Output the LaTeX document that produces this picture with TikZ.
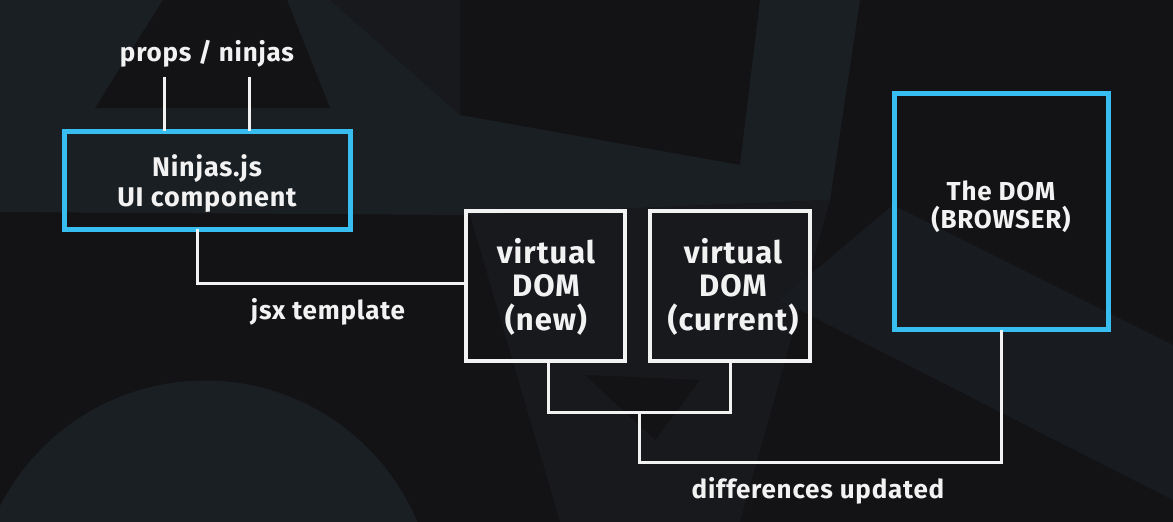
\documentclass[tikz,border=0pt]{standalone}
\usepackage{fontspec}
\setmainfont{Fira Sans}[LetterSpace=3]
\definecolor{bgdark}{HTML}{131215}
\definecolor{bglight}{HTML}{1A1F24}
\definecolor{bgmid}{HTML}{17191D}
\definecolor{reactblue}{HTML}{38BDF0}
\definecolor{linewhite}{HTML}{F2F2F2}
\tikzset{
  bluebox/.style={draw=reactblue, line width=5pt, outer sep=0pt, inner sep=0pt},
  whitebox/.style={draw=linewhite, line width=3.5pt, outer sep=0pt, inner sep=0pt},
  wire/.style={draw=linewhite, line width=3pt},
  lbl/.style={text=linewhite, font=\bfseries\fontsize{26}{30}\selectfont, anchor=base, inner sep=0pt},
  boxtxt/.style={text=linewhite, align=center, anchor=base, inner sep=0pt},
}
\begin{document}
\begin{tikzpicture}[x=1pt,y=-1pt]
\useasboundingbox (0,0) rectangle (1173,522);
% background
\fill[bgdark] (0,0) rectangle (1173,522);
\fill[bglight] (0,0) -- (460,0) -- (460,115) -- (740,165) -- (760,0) -- (860,0) -- (830,200) -- (470,215) -- (0,212) -- cycle;
\fill[bgdark] (163,0) -- (287,0) -- (330,108) -- (95,108) -- cycle;
\fill[bgmid] (330,0) -- (460,0) -- (460,115) -- cycle;
\fill[bgmid] (470,215) -- (830,200) -- (740,522) -- (560,522) -- cycle;
\fill[bgdark] (585,375) -- (700,380) -- (655,440) -- cycle;
\fill[bglight] (205,610.5) circle[radius=230];
\fill[bglight!80!bgdark] (893,205) -- (1173,345) -- (1173,500) -- (780,300) -- cycle;
% boxes
\node[bluebox, minimum width=286, minimum height=98] (ninjas) at (207,180) {};
\node[whitebox, minimum width=159, minimum height=150] (vnew) at (545.5,286) {};
\node[whitebox, minimum width=160, minimum height=150] (vcur) at (730,286) {};
\node[bluebox, minimum width=214, minimum height=236] (dom) at (1001.5,211.5) {};
% box texts
\node[boxtxt, font=\bfseries\fontsize{27}{30}\selectfont] (ninjastxt) at (207,206) {Ninjas.js\\UI component};
\node[boxtxt, font=\bfseries\fontsize{31}{33.5}\selectfont] (vnewtxt) at (546,330) {virtual\\DOM\\(new)};
\node[boxtxt, font=\bfseries\fontsize{31}{33.5}\selectfont] (vcurtxt) at (733,330) {virtual\\DOM\\(current)};
\node[boxtxt, font=\bfseries\fontsize{26}{28}\selectfont] (domtxt) at (1001,228) {The DOM\\(BROWSER)};
% labels
\node[lbl] (props) at (207,61) {props / ninjas};
\node[lbl] (jsx) at (328,319) {jsx template};
\node[lbl] (diff) at (818,498) {differences updated};
% connector coordinates
\coordinate (pa) at (164,77);
\coordinate (pb) at (249,77);
\coordinate (jc) at (197,283);
\coordinate (na) at (548,412);
\coordinate (mid) at (639,412);
\coordinate (ca) at (730,412);
\coordinate (bot) at (639,462);
\coordinate (da) at (1001,462);
% connectors
\draw[wire] (pa) -- (pa |- ninjas.north);
\draw[wire] (pb) -- (pb |- ninjas.north);
\draw[wire] (ninjas.south -| jc) -- (jc) -- (jc -| vnew.west);
\draw[wire] (vnew.south -| na) -- (na) -- (ca) -- (vcur.south -| ca);
\draw[wire] (mid) -- (bot) -- (da) -- (dom.south -| da);
\end{tikzpicture}
\end{document}
